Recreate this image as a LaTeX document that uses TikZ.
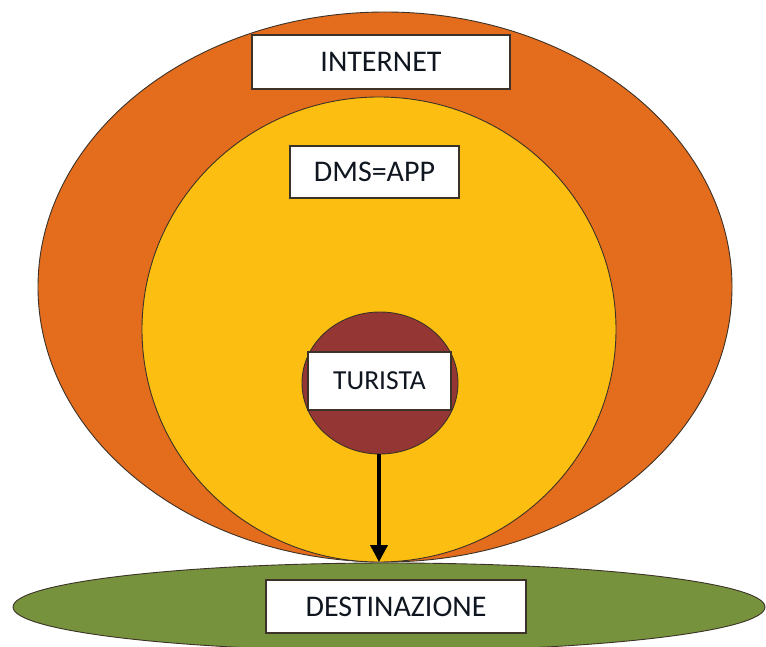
\documentclass[tikz,border=0pt]{standalone}
\usepackage{fontspec}
\setmainfont{Carlito}
\usetikzlibrary{shapes.geometric,arrows.meta}
\definecolor{orangeC}{RGB}{227,108,29}
\definecolor{yellowC}{RGB}{252,191,17}
\definecolor{maroonC}{RGB}{148,54,52}
\definecolor{greenC}{RGB}{118,146,60}
\definecolor{edgeC}{RGB}{60,50,40}
\definecolor{textC}{RGB}{15,22,32}
\tikzset{
  blob/.style={ellipse, draw=edgeC, line width=0.9pt, inner sep=0pt},
  label box/.style={rectangle, draw=edgeC, line width=1.1pt, fill=white, inner sep=0pt, font=\fontsize{30}{32}\selectfont, text=textC},
}
\begin{document}
\begin{tikzpicture}[x=1pt,y=-1pt]
\useasboundingbox (0,0) rectangle (766,647);
\node[blob, fill=orangeC, minimum width=694pt, minimum height=550pt] (internet) at (385,287) {};
\node[blob, fill=yellowC, minimum width=474pt, minimum height=465pt] (dms) at (379,329.5) {};
\node[blob, fill=maroonC, minimum width=156pt, minimum height=142pt] (turista) at (380,383) {};
\node[blob, fill=greenC, minimum width=752pt, minimum height=88pt] (dest) at (389,607) {};
\node[label box, minimum width=258pt, minimum height=54pt] (internetlbl) at (381,62) {INTERNET};
\node[label box, minimum width=169pt, minimum height=52pt] (dmslbl) at (374.5,172) {DMS=APP};
\node[label box, minimum width=143pt, minimum height=58pt, font=\fontsize{27.5}{30}\selectfont] (turistalbl) at (379.5,381) {TURISTA};
\node[label box, minimum width=260pt, minimum height=53pt] (destlbl) at (396,606.5) {DESTINAZIONE};
\coordinate (arrowend) at (379,562);
\draw[line width=3.6pt, -{Triangle[length=17pt,width=17pt]}] (turista.south -| arrowend) -- (arrowend);
\end{tikzpicture}
\end{document}
